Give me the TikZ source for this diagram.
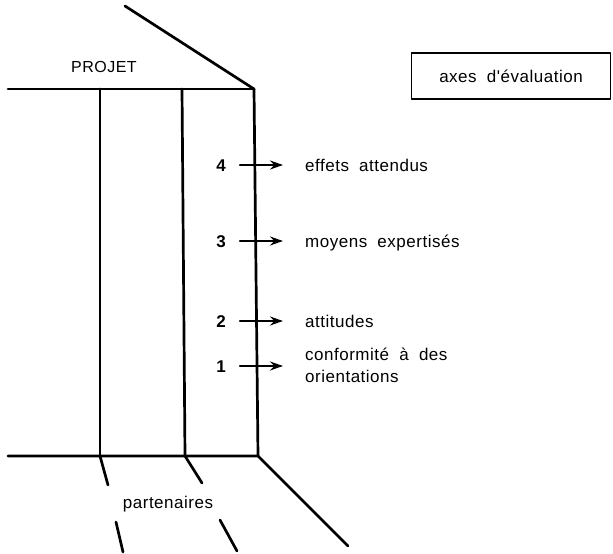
\documentclass[tikz,border=0pt]{standalone}
\usepackage{fontspec}
\setmainfont{Liberation Sans}
\newfontfamily\reffont[LetterSpace=3]{Liberation Sans}
\newcommand{\reftext}{\reffont\fontsize{17}{21}\selectfont\spaceskip=0.6em plus 0.1em\relax}
\usetikzlibrary{arrows.meta}
\begin{document}
\begin{tikzpicture}[x=1pt,y=-1pt,line cap=round,line join=round,
  wall/.style={line width=2.7pt},
  lbl/.style={font=\reftext,inner sep=0pt,anchor=base west},
  num/.style={font=\reftext\bfseries,inner sep=0pt,anchor=base},
  axe/.style={line width=2.1pt,-{Stealth[length=13pt,width=9pt]}},
  legend/.style={draw,line width=1.8pt,minimum width=199pt,minimum height=46pt,
    font=\reftext,inner sep=0pt}]
\useasboundingbox (0,0) rectangle (613,554);
% corners
\coordinate (roof) at (125,6);
\coordinate (tl) at (8,89);
\coordinate (t1) at (100,89);
\coordinate (t2) at (182,89);
\coordinate (tr) at (254,89);
\coordinate (bl) at (8,456);
\coordinate (b1) at (100,456);
\coordinate (b2) at (185,456);
\coordinate (br) at (258,456);
\coordinate (fl) at (348,546);
\coordinate (p1a) at (108,485);
\coordinate (p1b) at (116,522);
\coordinate (p1c) at (123,552);
\coordinate (p2a) at (202,483);
\coordinate (p2b) at (220,520);
\coordinate (p2c) at (237,551);
% structure
\draw[wall] (roof) -- (tr);
\draw[wall] (tl) -- (tr);
\draw[wall] (bl) -- (br) -- (fl);
\draw[wall] (t1) -- (b1);
\draw[wall] (t2) -- (b2);
\draw[wall] (tr) -- (br);
\draw[wall] (b1) -- (p1a);
\draw[wall] (p1b) -- (p1c);
\draw[wall] (b2) -- (p2a);
\draw[wall] (p2b) -- (p2c);
% texts
\node[font=\reffont\fontsize{16}{19}\selectfont,inner sep=0pt] (projet) at (104,67) {PROJET};
\node[legend] (legend) at (511,76) {axes d'évaluation};
\node[font=\reftext,inner sep=0pt] (part) at (168,504) {partenaires};
% axes
\foreach \n/\y in {4/165,3/241,2/321,1/366}{
  \coordinate (s\n) at (240,\y);
  \coordinate (e\n) at (283,\y);
  \draw[axe] (s\n) -- (e\n);
  \node[num] (n\n) at (221,\y+6) {\n};
}
\node[lbl] (t4) at (305,171) {effets attendus};
\node[lbl] (t3) at (305,247) {moyens expertisés};
\node[lbl] (t2) at (305,327) {attitudes};
\node[lbl] (t1a) at (305,360) {conformité à des};
\node[lbl] (t1b) at (305,382) {orientations};
\end{tikzpicture}
\end{document}
